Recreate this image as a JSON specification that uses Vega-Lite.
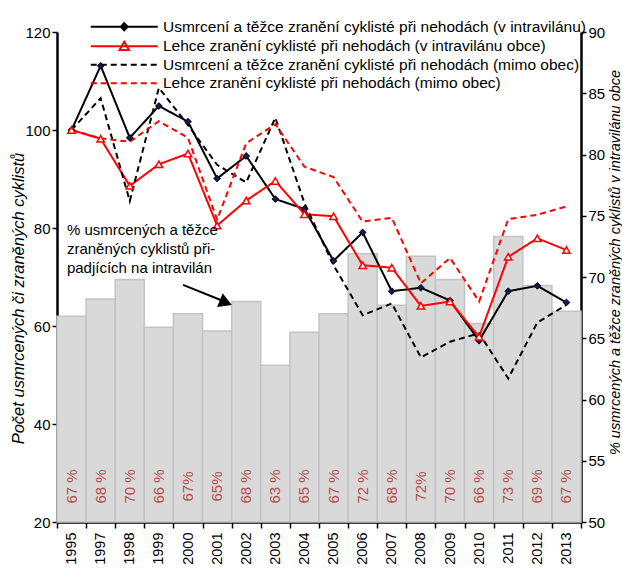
{
  "$schema": "https://vega.github.io/schema/vega-lite/v6.json",
  "width": 524,
  "height": 490,
  "autosize": {"type": "none"},
  "padding": {"left": 57, "top": 32, "right": 41, "bottom": 48},
  "background": "white",
  "config": {
    "view": {"stroke": null},
    "font": "Liberation Sans",
    "axis": {
      "grid": false,
      "domainColor": "black",
      "domainWidth": 2.5,
      "tickColor": "black",
      "tickWidth": 1.5,
      "tickSize": 5,
      "labelColor": "black",
      "labelFont": "Liberation Sans",
      "labelFontSize": 15,
      "titleColor": "black",
      "titleFont": "Liberation Sans",
      "titleFontWeight": "normal",
      "titleFontStyle": "italic"
    }
  },
  "datasets": {
    "bars": [
      {"year": "1995", "pct": 66.8, "label": "67 %"},
      {"year": "1997", "pct": 68.2, "label": "68 %"},
      {"year": "1998", "pct": 69.8, "label": "70 %"},
      {"year": "1999", "pct": 65.9, "label": "66 %"},
      {"year": "2000", "pct": 67.0, "label": "67%"},
      {"year": "2001", "pct": 65.6, "label": "65%"},
      {"year": "2002", "pct": 68.0, "label": "68 %"},
      {"year": "2003", "pct": 62.8, "label": "63 %"},
      {"year": "2004", "pct": 65.5, "label": "65 %"},
      {"year": "2005", "pct": 67.0, "label": "67 %"},
      {"year": "2006", "pct": 71.9, "label": "72 %"},
      {"year": "2007", "pct": 67.7, "label": "68 %"},
      {"year": "2008", "pct": 71.7, "label": "72%"},
      {"year": "2009", "pct": 69.8, "label": "70 %"},
      {"year": "2010", "pct": 66.2, "label": "66 %"},
      {"year": "2011", "pct": 73.3, "label": "73 %"},
      {"year": "2012", "pct": 69.3, "label": "69 %"},
      {"year": "2013", "pct": 67.2, "label": "67 %"}
    ],
    "lines": [
      {"series": "A", "year": "1995", "value": 100},
      {"series": "A", "year": "1997", "value": 113.1},
      {"series": "A", "year": "1998", "value": 98.4},
      {"series": "A", "year": "1999", "value": 104.9},
      {"series": "A", "year": "2000", "value": 101.7},
      {"series": "A", "year": "2001", "value": 90.1},
      {"series": "A", "year": "2002", "value": 94.7},
      {"series": "A", "year": "2003", "value": 85.9},
      {"series": "A", "year": "2004", "value": 83.9},
      {"series": "A", "year": "2005", "value": 73.3},
      {"series": "A", "year": "2006", "value": 79.1},
      {"series": "A", "year": "2007", "value": 67.1},
      {"series": "A", "year": "2008", "value": 67.8},
      {"series": "A", "year": "2009", "value": 65.2},
      {"series": "A", "year": "2010", "value": 57.0},
      {"series": "A", "year": "2011", "value": 67.1},
      {"series": "A", "year": "2012", "value": 68.2},
      {"series": "A", "year": "2013", "value": 64.8},
      {"series": "B", "year": "1995", "value": 100},
      {"series": "B", "year": "1997", "value": 98.2},
      {"series": "B", "year": "1998", "value": 88.6},
      {"series": "B", "year": "1999", "value": 93.0},
      {"series": "B", "year": "2000", "value": 95.2},
      {"series": "B", "year": "2001", "value": 80.5},
      {"series": "B", "year": "2002", "value": 85.6},
      {"series": "B", "year": "2003", "value": 89.6},
      {"series": "B", "year": "2004", "value": 82.8},
      {"series": "B", "year": "2005", "value": 82.4},
      {"series": "B", "year": "2006", "value": 72.4},
      {"series": "B", "year": "2007", "value": 71.9},
      {"series": "B", "year": "2008", "value": 64.1},
      {"series": "B", "year": "2009", "value": 65.0},
      {"series": "B", "year": "2010", "value": 57.8},
      {"series": "B", "year": "2011", "value": 74.1},
      {"series": "B", "year": "2012", "value": 77.9},
      {"series": "B", "year": "2013", "value": 75.5},
      {"series": "C", "year": "1995", "value": 100},
      {"series": "C", "year": "1997", "value": 106.5},
      {"series": "C", "year": "1998", "value": 85.5},
      {"series": "C", "year": "1999", "value": 108.6},
      {"series": "C", "year": "2000", "value": 101.0},
      {"series": "C", "year": "2001", "value": 92.9},
      {"series": "C", "year": "2002", "value": 89.3},
      {"series": "C", "year": "2003", "value": 102.5},
      {"series": "C", "year": "2004", "value": 85.1},
      {"series": "C", "year": "2005", "value": 72.4},
      {"series": "C", "year": "2006", "value": 62.2},
      {"series": "C", "year": "2007", "value": 64.6},
      {"series": "C", "year": "2008", "value": 53.6},
      {"series": "C", "year": "2009", "value": 56.8},
      {"series": "C", "year": "2010", "value": 58.5},
      {"series": "C", "year": "2011", "value": 49.3},
      {"series": "C", "year": "2012", "value": 60.7},
      {"series": "C", "year": "2013", "value": 64.3},
      {"series": "D", "year": "1995", "value": 100},
      {"series": "D", "year": "1997", "value": 98.3},
      {"series": "D", "year": "1998", "value": 97.6},
      {"series": "D", "year": "1999", "value": 101.8},
      {"series": "D", "year": "2000", "value": 98.4},
      {"series": "D", "year": "2001", "value": 81.7},
      {"series": "D", "year": "2002", "value": 97.3},
      {"series": "D", "year": "2003", "value": 101.2},
      {"series": "D", "year": "2004", "value": 92.5},
      {"series": "D", "year": "2005", "value": 90.4},
      {"series": "D", "year": "2006", "value": 81.3},
      {"series": "D", "year": "2007", "value": 82.1},
      {"series": "D", "year": "2008", "value": 68.7},
      {"series": "D", "year": "2009", "value": 73.9},
      {"series": "D", "year": "2010", "value": 65.0},
      {"series": "D", "year": "2011", "value": 81.8},
      {"series": "D", "year": "2012", "value": 82.7},
      {"series": "D", "year": "2013", "value": 84.4}
    ]
  },
  "layer": [
    {
      "data": {"name": "bars"},
      "layer": [
        {
          "mark": {"type": "bar", "fill": "#d9d9d9", "stroke": "#c3c3c3", "strokeWidth": 1.5},
          "encoding": {
            "x": {
              "field": "year", "type": "ordinal",
              "scale": {"paddingInner": 0, "paddingOuter": 0},
              "axis": {"title": null, "labelAngle": 270, "labelAlign": "right", "labelBaseline": "middle", "labelPadding": 4, "tickBand": "extent", "tickSize": 6, "labelFontSize": 14.5}
            },
            "y": {
              "field": "pct", "type": "quantitative",
              "scale": {"domain": [50, 90], "zero": false, "nice": false},
              "axis": {
                "orient": "right",
                "values": [50, 55, 60, 65, 70, 75, 80, 85, 90],
                "title": "% usmrcených a těžce zraněných cyklistů v intravilánu obce",
                "titleAngle": 270, "titleBaseline": "middle", "titleAlign": "center",
                "titleX": 34, "titleY": 230, "titleFontSize": 14.5
              }
            },
            "y2": {"datum": 50}
          }
        },
        {
          "mark": {"type": "text", "angle": 270, "color": "#b3504e", "fontSize": 15, "baseline": "middle", "align": "center"},
          "encoding": {
            "x": {"field": "year", "type": "ordinal"},
            "y": {"datum": 52.9, "type": "quantitative"},
            "text": {"field": "label"}
          }
        }
      ]
    },
    {
      "data": {"name": "lines"},
      "layer": [
        {
          "mark": {"type": "line"},
          "encoding": {
            "x": {"field": "year", "type": "ordinal", "axis": null},
            "y": {
              "field": "value", "type": "quantitative",
              "scale": {"domain": [20, 120], "nice": false, "zero": false},
              "axis": {
                "orient": "left",
                "values": [20, 40, 60, 80, 100, 120],
                "title": "Počet usmrcených či zraněných cyklistů",
                "titleAngle": 270, "titleBaseline": "middle", "titleAlign": "center",
                "titleX": -39, "titleY": 266, "titleFontSize": 16.5
              }
            },
            "color": {
              "field": "series", "type": "nominal",
              "scale": {"domain": ["A", "B", "C", "D"], "range": ["#000000", "#ff0000", "#000000", "#ff0000"]},
              "legend": {
                "title": null, "orient": "none", "legendX": 31, "legendY": -13,
                "padding": 0, "symbolSize": 100, "symbolStrokeWidth": 2, "symbolOffset": 28.5,
                "labelFontSize": 15.5, "labelColor": "black", "labelOffset": 31, "labelLimit": 600, "rowPadding": 1.5,
                "labelExpr": "datum.value == 'A' ? 'Usmrcení a těžce zranění  cyklisté při nehodách  (v intravilánu)' : datum.value == 'B' ? 'Lehce zranění  cyklisté při nehodách  (v intravilánu obce)' : datum.value == 'C' ? 'Usmrcení a těžce zranění  cyklisté při nehodách  (mimo obec)' : 'Lehce zranění  cyklisté při nehodách  (mimo obec)'",
                "encode": {
                  "symbols": {
                    "update": {
                      "shape": {"signal": "datum.value == 'A' ? 'M-6.7,0H6.7M0,-0.7L0.7,0L0,0.7L-0.7,0Z' : datum.value == 'B' ? 'M-6.7,0H6.7M0,-0.9L0.95,0.75L-0.95,0.75Z' : 'M-6.7,0H6.7'"},
                      "fill": {"signal": "datum.value == 'A' ? '#0b1e5b' : datum.value == 'B' ? 'white' : 'transparent'"}
                    }
                  }
                }
              }
            },
            "strokeDash": {
              "field": "series", "type": "nominal",
              "scale": {"domain": ["A", "B", "C", "D"], "range": [[1, 0], [1, 0], [6, 4], [6, 4]]},
              "legend": null
            },
            "strokeWidth": {
              "field": "series", "type": "nominal",
              "scale": {"domain": ["A", "B", "C", "D"], "range": [2, 2, 1.8, 1.8]},
              "legend": null
            }
          }
        },
        {
          "transform": [{"filter": "datum.series == 'A'"}],
          "mark": {"type": "point", "shape": "diamond", "filled": true, "fill": "#0b1e5b", "stroke": "black", "strokeWidth": 1, "size": 45, "opacity": 1},
          "encoding": {
            "x": {"field": "year", "type": "ordinal"},
            "y": {"field": "value", "type": "quantitative"}
          }
        },
        {
          "transform": [{"filter": "datum.series == 'B'"}],
          "mark": {"type": "point", "shape": "triangle-up", "filled": true, "fill": "white", "stroke": "#ff0000", "strokeWidth": 1.5, "size": 55, "opacity": 1},
          "encoding": {
            "x": {"field": "year", "type": "ordinal"},
            "y": {"field": "value", "type": "quantitative"}
          }
        }
      ]
    },
    {
      "data": {"values": [{}]},
      "layer": [
        {
          "mark": {"type": "text", "align": "left", "baseline": "middle", "fontSize": 15, "lineHeight": 19, "color": "black",
                   "text": ["% usmrcených a těžce", "zraněných cyklistů při-", "padjících na intravilán"]},
          "encoding": {
            "x": {"datum": 0.34, "type": "quantitative", "scale": {"domain": [0, 18], "nice": false, "zero": false}, "axis": null},
            "y": {"datum": 79.6, "type": "quantitative", "scale": {"domain": [20, 120], "nice": false, "zero": false}, "axis": null}
          }
        },
        {
          "mark": {"type": "rule", "strokeWidth": 2, "color": "black"},
          "encoding": {
            "x": {"datum": 4.33, "type": "quantitative"},
            "y": {"datum": 68.4, "type": "quantitative"},
            "x2": {"datum": 5.75},
            "y2": {"datum": 65.0}
          }
        },
        {
          "mark": {"type": "point", "shape": "triangle-right", "filled": true, "color": "black", "size": 220, "angle": 22, "opacity": 1},
          "encoding": {
            "x": {"datum": 5.8, "type": "quantitative"},
            "y": {"datum": 64.8, "type": "quantitative"}
          }
        }
      ]
    }
  ],
  "resolve": {"scale": {"x": "independent", "y": "independent"}}
}
